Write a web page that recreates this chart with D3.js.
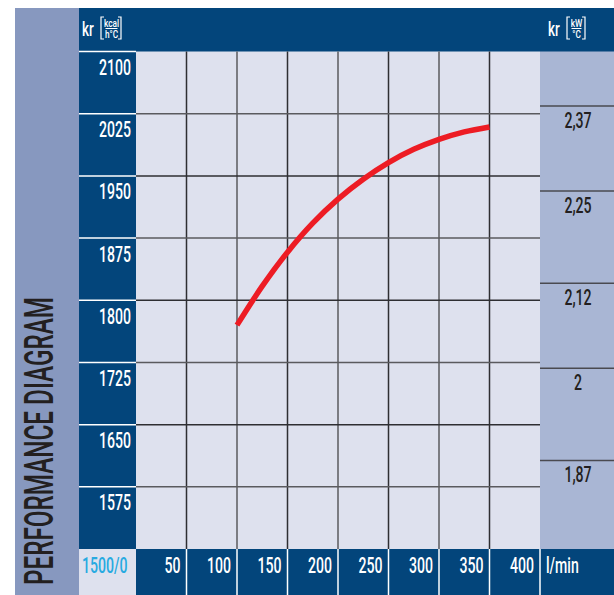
<!DOCTYPE html>
<html>
<head>
<meta charset="utf-8">
<script src="https://cdn.jsdelivr.net/npm/d3@7"></script>
<style>
  body { margin: 0; background: #fff; }
  text { font-family: Roboto, "Noto Sans", sans-serif; font-weight: 500; }
</style>
</head>
<body>
<div id="chart"></div>
<script>
// chart values
var flowTicks = [50, 100, 150, 200, 250, 300, 350, 400];
var kcalTicks = [2100, 2025, 1950, 1875, 1800, 1725, 1650, 1575];
var kwTicks = [2.37, 2.25, 2.12, 2, 1.87];
var kwLabels = ["2,37", "2,25", "2,12", "2", "1,87"];
var flow = [100, 125, 150, 175, 200, 225, 250, 275, 300, 325, 350];
var capacity = [1770, 1817, 1858, 1893, 1922, 1946, 1966, 1982, 1994, 2003, 2009];

var W = 614, H = 595;
var dark = "#03457b", side = "#8798bf", plotBg = "#dee1ee", rightBg = "#a9b6d4";
var SX = 0.64; // horizontal squeeze, the original uses a condensed face

var svg = d3.select("#chart").append("svg")
	.attr("width", W)
	.attr("height", H);

// set the ranges
var x = d3.scaleLinear().domain([0, 400]).range([136, 540]);
var y = d3.scaleLinear().domain([1500, 2100]).range([549, 51.5]);
var yKw = d3.scaleLinear().domain([1.745, 2.447]).range([549, 51.5]);

// condensed text helper
function ctext(sel, px, py, size, sx) {
	return sel.attr("transform", function(d, i) {
			var X = typeof px === "function" ? px(d, i) : px;
			var Y = typeof py === "function" ? py(d, i) : py;
			return "translate(" + X + "," + Y + ") scale(" + (sx || SX) + ",1)";
		})
		.style("font-size", size + "px");
}

// background blocks
svg.append("rect").attr("x", 15).attr("y", 8).attr("width", 64).attr("height", H - 8).attr("fill", side);
svg.append("rect").attr("x", 79).attr("y", 8).attr("width", W - 79).attr("height", 44).attr("fill", dark);
svg.append("rect").attr("x", 79).attr("y", y(2100)).attr("width", x(0) - 79).attr("height", y(1500) - y(2100)).attr("fill", dark);
svg.append("rect").attr("x", x(0)).attr("y", y(2100)).attr("width", x(400) - x(0)).attr("height", y(1500) - y(2100)).attr("fill", plotBg);
svg.append("rect").attr("x", x(400)).attr("y", y(2100)).attr("width", W - x(400)).attr("height", y(1500) - y(2100)).attr("fill", rightBg);
svg.append("rect").attr("x", x(0)).attr("y", y(1500)).attr("width", W - x(0)).attr("height", H - y(1500)).attr("fill", dark);
svg.append("rect").attr("x", 79).attr("y", y(1500)).attr("width", x(0) - 79).attr("height", H - y(1500)).attr("fill", plotBg);

// grid
svg.append("g").selectAll("line")
	.data(flowTicks.filter(function(d) { return d < 400; }))
	.enter().append("line")
	.attr("x1", function(d) { return x(d); })
	.attr("x2", function(d) { return x(d); })
	.attr("y1", y(2100))
	.attr("y2", y(1500))
	.attr("stroke", function(d, i) { return i % 2 ? "#5a5a5e" : "#2e2e32"; })
	.attr("stroke-width", 1.5);

svg.append("g").selectAll("line")
	.data(kcalTicks.filter(function(d) { return d < 2100; }))
	.enter().append("line")
	.attr("x1", x(0))
	.attr("x2", x(400))
	.attr("y1", function(d) { return y(d); })
	.attr("y2", function(d) { return y(d); })
	.attr("stroke", function(d, i) { return i % 2 ? "#2e2e32" : "#5a5a5e"; })
	.attr("stroke-width", 1.5);

// white separators in the axis columns
svg.append("g").selectAll("line")
	.data(kcalTicks)
	.enter().append("line")
	.attr("x1", 79)
	.attr("x2", x(0))
	.attr("y1", function(d) { return y(d); })
	.attr("y2", function(d) { return y(d); })
	.attr("stroke", "#fff")
	.attr("stroke-width", 1.5);

svg.append("g").selectAll("line")
	.data(flowTicks)
	.enter().append("line")
	.attr("x1", function(d) { return x(d); })
	.attr("x2", function(d) { return x(d); })
	.attr("y1", y(1500))
	.attr("y2", H)
	.attr("stroke", "#fff")
	.attr("stroke-width", 1.5);

// right kW column lines
svg.append("g").selectAll("line")
	.data(kwTicks)
	.enter().append("line")
	.attr("x1", x(400))
	.attr("x2", W)
	.attr("y1", function(d) { return yKw(d); })
	.attr("y2", function(d) { return yKw(d); })
	.attr("stroke", "#4a4a50")
	.attr("stroke-width", 1.5);

// the curve
var pts = flow.map(function(f, i) { return [f, capacity[i]]; });
svg.append("path")
	.datum(pts)
	.attr("fill", "none")
	.attr("stroke", "#ed1c24")
	.attr("stroke-width", 5.5)
	.attr("d", d3.line()
		.x(function(d) { return x(d[0]); })
		.y(function(d) { return y(d[1]); })
		.curve(d3.curveCatmullRom));

// left labels
ctext(svg.append("g").selectAll("text")
	.data(kcalTicks)
	.enter().append("text"), x(0) - 5, function(d) { return y(d) + 23.5; }, 22)
	.attr("text-anchor", "end")
	.attr("fill", "#fff")
	.text(function(d) { return d; });

// bottom labels
ctext(svg.append("g").selectAll("text")
	.data(flowTicks)
	.enter().append("text"), function(d) { return x(d) - 6; }, y(1500) + 23.5, 22)
	.attr("text-anchor", "end")
	.attr("fill", "#fff")
	.text(function(d) { return d; });

ctext(svg.append("text"), 82, y(1500) + 23.5, 22)
	.attr("fill", "#27aae1")
	.text("1500/0");

ctext(svg.append("text"), x(400) + 6, y(1500) + 23.5, 22)
	.attr("fill", "#fff")
	.text("l/min");

// right labels
ctext(svg.append("g").selectAll("text")
	.data(kwTicks)
	.enter().append("text"), (x(400) + W) / 2 + 1, function(d) { return yKw(d) + 21.5; }, 22)
	.attr("text-anchor", "middle")
	.attr("fill", "#231f20")
	.text(function(d, i) { return kwLabels[i]; });

// unit headers: kr [num/den]
function unitLabel(x0, bx, num, den, fw) {
	ctext(svg.append("text"), x0, 36, 21).attr("fill", "#fff").text("kr");
	var bw = fw + 4;
	svg.append("path")
		.attr("d", "M" + (bx + 3) + ",17 H" + bx + " V39 H" + (bx + 3))
		.attr("fill", "none").attr("stroke", "#fff").attr("stroke-width", 1.2);
	svg.append("path")
		.attr("d", "M" + (bx + bw + 1) + ",17 H" + (bx + bw + 4) + " V39 H" + (bx + bw + 1))
		.attr("fill", "none").attr("stroke", "#fff").attr("stroke-width", 1.2);
	var cx = bx + 2.5 + bw / 2;
	ctext(svg.append("text"), cx, 27, 11, 0.75).attr("text-anchor", "middle").attr("fill", "#fff").text(num);
	svg.append("line").attr("x1", cx - fw / 2).attr("x2", cx + fw / 2).attr("y1", 28.5).attr("y2", 28.5).attr("stroke", "#fff").attr("stroke-width", 1);
	ctext(svg.append("text"), cx, 38, 11, 0.75).attr("text-anchor", "middle").attr("fill", "#fff").text(den);
}
unitLabel(82, 101, "kcal", "h°C", 12);
unitLabel(548, 567, "kW", "°C", 10);

// side title
svg.append("text")
	.attr("transform", "translate(53,585) rotate(-90)")
	.attr("fill", "#231f20")
	.attr("textLength", 288)
	.attr("lengthAdjust", "spacingAndGlyphs")
	.style("font-size", "40px")
	.text("PERFORMANCE DIAGRAM");
</script>
</body>
</html>
